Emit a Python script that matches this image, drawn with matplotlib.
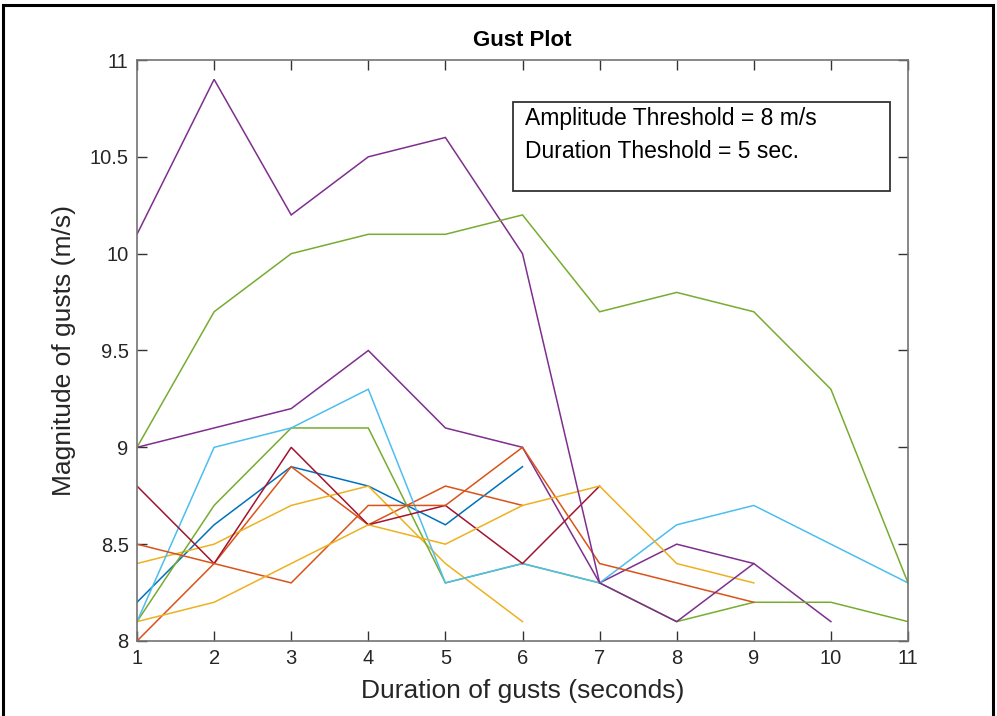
import matplotlib
matplotlib.use("Agg")
import matplotlib.pyplot as plt
from matplotlib.patches import Rectangle

plt.rcParams['font.family'] = ['Liberation Sans', 'DejaVu Sans']

# Durations (x) and gust magnitude series (y)
purple_big = [10.1, 10.9, 10.2, 10.5, 10.6, 10.0, 8.3, 8.1, 8.4]
green_big = [9.0, 9.7, 10.0, 10.1, 10.1, 10.2, 9.7, 9.8, 9.7, 9.3, 8.3]
purple_2 = [9.0, 9.1, 9.2, 9.5, 9.1, 9.0, 8.3, 8.5, 8.4, 8.1]
green_2 = [8.1, 8.7, 9.1, 9.1, 8.3, 8.4, 8.3, 8.1, 8.2, 8.2, 8.1]
cyan_1 = [8.1, 9.0, 9.1, 9.3, 8.3, 8.4, 8.3, 8.6, 8.7, 8.5, 8.3]
blue_1 = [8.2, 8.6, 8.9, 8.8, 8.6, 8.9]
orange_1 = [8.5, 8.4, 8.3, 8.7, 8.7, 9.0, 8.4, 8.3, 8.2]
orange_2 = [8.0, 8.4, 8.9, 8.6, 8.8, 8.7]
darkred_1 = [8.8, 8.4, 9.0, 8.6, 8.7, 8.4, 8.8]
yellow_1 = [8.4, 8.5, 8.7, 8.8, 8.4, 8.1]
yellow_2 = [8.1, 8.2, 8.4, 8.6, 8.5, 8.7, 8.8, 8.4, 8.3]

x_ticks = list(range(1, 12))
y_ticks = [8, 8.5, 9, 9.5, 10, 10.5, 11]
y_tick_labels = ["8", "8.5", "9", "9.5", "10", "10.5", "11"]

C_BLUE = (0, 0.447, 0.741)
C_ORANGE = (0.85, 0.325, 0.098)
C_YELLOW = (0.929, 0.694, 0.125)
C_PURPLE = (0.494, 0.184, 0.556)
C_GREEN = (0.466, 0.674, 0.188)
C_CYAN = (0.301, 0.745, 0.933)
C_DRED = (0.635, 0.078, 0.184)

series = [
    (blue_1, C_BLUE),
    (orange_2, C_ORANGE),
    (yellow_1, C_YELLOW),
    (purple_2, C_PURPLE),
    (green_2, C_GREEN),
    (cyan_1, C_CYAN),
    (darkred_1, C_DRED),
    (orange_1, C_ORANGE),
    (yellow_2, C_YELLOW),
    (purple_big, C_PURPLE),
    (green_big, C_GREEN),
]

fig = plt.figure(figsize=(9.97, 7.16), dpi=100)
ax = fig.add_axes([137/997, 1 - 641/716, (908-137)/997, (641-60)/716])

for vals, col in series:
    xs = list(range(1, len(vals) + 1))
    ax.plot(xs, vals, color=col, lw=1.1, solid_joinstyle='miter')

ax.set_xlim(1, 11)
ax.set_ylim(8, 11)
ax.set_xticks(x_ticks)
ax.set_yticks(y_ticks)
ax.set_yticklabels(y_tick_labels)
axis_col = (0.15, 0.15, 0.15)
for sp in ax.spines.values():
    sp.set_color((0.45, 0.45, 0.45))
    sp.set_linewidth(1.2)
ax.tick_params(direction='in', length=7, width=1.0, colors=(0.2, 0.2, 0.2),
               labelsize=14.5, top=True, right=True, pad=6)
for lab in ax.get_xticklabels() + ax.get_yticklabels():
    lab.set_color(axis_col)

ax.set_title("Gust Plot", fontsize=16, fontweight='bold', pad=10)
ax.set_xlabel("Duration of gusts (seconds)", fontsize=19, color=axis_col, labelpad=8)
ax.set_ylabel("Magnitude of gusts (m/s)", fontsize=19, color=axis_col, labelpad=10)

# annotation box
box = Rectangle((513/997, 1 - 191/716), (890-513)/997, (191-102)/716,
                transform=fig.transFigure, fill=True, facecolor='white',
                edgecolor=(0.2, 0.2, 0.2), lw=1.3, zorder=5)
fig.add_artist(box)
fig.text(525/997, 1 - 118/716, "Amplitude Threshold = 8 m/s", fontsize=16.5,
         va='center', ha='left', color='black', zorder=6)
fig.text(525/997, 1 - 152/716, "Duration Theshold = 5 sec.", fontsize=16.5,
         va='center', ha='left', color='black', zorder=6)

# outer frame
frame = Rectangle((3/997, -0.05), (993-3)/997, 1.05 - 5/716,
                  transform=fig.transFigure, fill=False, edgecolor='black', lw=2.2)
fig.add_artist(frame)

fig.savefig("out.png", dpi=100, facecolor='white')
